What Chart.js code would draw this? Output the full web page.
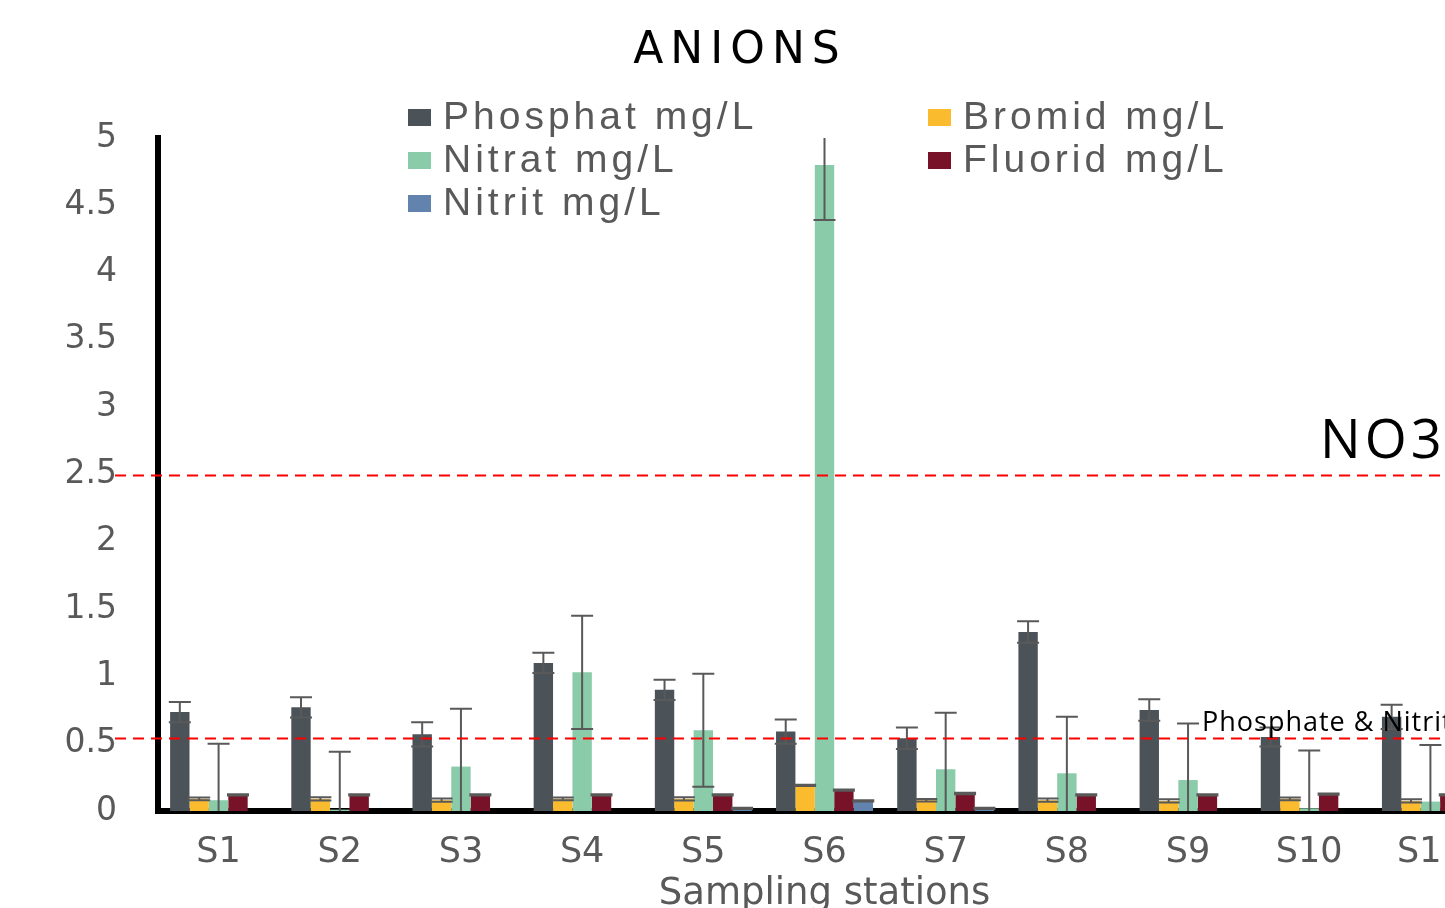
<!DOCTYPE html>
<html>
<head>
<meta charset="utf-8">
<script src="https://cdn.jsdelivr.net/npm/chart.js@4/dist/chart.umd.min.js"></script>
<style>
  body { margin: 0; background: #fff; overflow: hidden; }
  #wrap { width: 1445px; height: 908px; overflow: hidden; }
</style>
</head>
<body>
<div id="wrap"><canvas id="chart" width="1500" height="908"></canvas></div>
<script>
const stations = ['S1', 'S2', 'S3', 'S4', 'S5', 'S6', 'S7', 'S8', 'S9', 'S10', 'S11'];
const yTicks = [0, 0.5, 1, 1.5, 2, 2.5, 3, 3.5, 4, 4.5, 5];

const phosphat    = [0.735, 0.77, 0.57, 1.10, 0.90, 0.59, 0.54, 1.33, 0.75, 0.55, 0.70];
const phosphatErr = [0.075, 0.075, 0.09, 0.075, 0.075, 0.09, 0.08, 0.08, 0.08, 0.07, 0.09];
const bromid      = [0.09, 0.09, 0.08, 0.09, 0.09, 0.19, 0.08, 0.08, 0.075, 0.09, 0.075];
const bromidErr   = [0.01, 0.012, 0.012, 0.01, 0.012, 0.005, 0.01, 0.012, 0.012, 0.01, 0.012];
const nitrat      = [0.08, 0.01, 0.33, 1.03, 0.60, 4.80, 0.31, 0.28, 0.23, 0.02, 0.07];
const nitratErr   = [0.42, 0.43, 0.43, 0.42, 0.42, 0.41, 0.42, 0.42, 0.42, 0.43, 0.42];
const fluorid     = [0.12, 0.12, 0.12, 0.12, 0.12, 0.155, 0.13, 0.12, 0.12, 0.125, 0.12];
const fluoridErr  = [0.005, 0.005, 0.005, 0.005, 0.005, 0.005, 0.005, 0.005, 0.005, 0.005, 0.005];
const nitrit      = [0, 0, 0, 0, 0.02, 0.075, 0.02, 0, 0, 0, 0];
const nitritErr   = [0, 0, 0, 0, 0.005, 0.005, 0.005, 0, 0, 0, 0];

const limitNO3 = 2.5;
const limitPN = 0.54;

const grey = '#595959';

// legend slots: two columns, drawn by hand
const legendPos = [[408, 117], [928, 117], [408, 160], [928, 160], [408, 203]];

const errorBars = {
	id: 'errorBars',
	afterDatasetsDraw(chart) {
		const ctx = chart.ctx;
		const y = chart.scales.y;
		const area = chart.chartArea;
		ctx.save();
		ctx.beginPath();
		ctx.rect(area.left, area.top, area.right - area.left, area.bottom - area.top);
		ctx.clip();
		ctx.strokeStyle = grey;
		ctx.lineWidth = 2;
		chart.data.datasets.forEach((ds, i) => {
			const meta = chart.getDatasetMeta(i);
			meta.data.forEach((bar, j) => {
				const v = ds.data[j];
				const e = ds.err[j];
				if (!e) return;
				const top = y.getPixelForValue(v + e);
				const low = v - e;
				const bot = y.getPixelForValue(Math.max(0, low));
				const half = 11;
				ctx.beginPath();
				ctx.moveTo(bar.x, top);
				ctx.lineTo(bar.x, bot);
				ctx.moveTo(bar.x - half, top);
				ctx.lineTo(bar.x + half, top);
				if (low > 0) {
					ctx.moveTo(bar.x - half, bot);
					ctx.lineTo(bar.x + half, bot);
				}
				ctx.stroke();
			});
		});
		ctx.restore();
	}
};

const overlay = {
	id: 'overlay',
	afterDraw(chart) {
		const ctx = chart.ctx;
		const y = chart.scales.y;
		ctx.save();
		// limit lines
		ctx.strokeStyle = '#ff0000';
		ctx.lineWidth = 2;
		ctx.setLineDash([11, 7]);
		[limitNO3, limitPN].forEach(v => {
			const py = Math.round(y.getPixelForValue(v)) + 0.5;
			ctx.beginPath();
			ctx.moveTo(115, py);
			ctx.lineTo(chart.width, py);
			ctx.stroke();
		});
		ctx.setLineDash([]);

		ctx.fillStyle = '#000';
		ctx.textBaseline = 'middle';
		ctx.textAlign = 'left';
		ctx.font = '54px "Open Sans"';
		ctx.letterSpacing = '4px';
		ctx.fillText('NO3', 1320, 443);
		ctx.font = '27px "Open Sans"';
		ctx.letterSpacing = '1px';
		ctx.fillText('Phosphate & Nitrite', 1202, 723);

		// title
		ctx.textAlign = 'center';
		ctx.font = '44px "DejaVu Sans"';
		ctx.letterSpacing = '7px';
		ctx.fillText('ANIONS', 740, 52);

		// legend
		ctx.textAlign = 'left';
		ctx.font = '39px "Liberation Sans"';
		ctx.letterSpacing = '4px';
		chart.data.datasets.forEach((ds, i) => {
			const [lx, ly] = legendPos[i];
			ctx.fillStyle = ds.backgroundColor;
			ctx.fillRect(lx, ly - 8, 23, 17);
			ctx.fillStyle = grey;
			ctx.fillText(ds.label, lx + 35, ly + 1);
		});
		ctx.restore();
	}
};

function makeSet(label, data, err, color) {
	return { label: label, data: data, err: err, backgroundColor: color, borderWidth: 0 };
}

const config = {
	type: 'bar',
	data: {
		labels: stations,
		datasets: [
			makeSet('Phosphat mg/L', phosphat, phosphatErr, '#4b5358'),
			makeSet('Bromid mg/L', bromid, bromidErr, '#fbbb2f'),
			makeSet('Nitrat mg/L', nitrat, nitratErr, '#8acbaa'),
			makeSet('Fluorid mg/L', fluorid, fluoridErr, '#771229'),
			makeSet('Nitrit mg/L', nitrit, nitritErr, '#6283ad'),
		],
	},
	options: {
		responsive: false,
		animation: false,
		categoryPercentage: 0.8,
		barPercentage: 1.0,
		layout: { padding: { top: 138, right: 9, left: 0, bottom: 0 } },
		plugins: {
			legend: { display: false },
			title: { display: false },
			tooltip: { enabled: false },
		},
		scales: {
			y: {
				min: 0,
				max: 5,
				afterBuildTicks(scale) {
					scale.ticks = yTicks.map(v => ({ value: v }));
				},
				afterFit(scale) { scale.width = 158; },
				ticks: {
					color: grey,
					padding: 41,
					font: { family: 'DejaVu Sans', size: 33 },
					callback: v => String(v),
				},
				grid: { display: false, drawTicks: false },
				border: { color: '#000', width: 6 },
			},
			x: {
				afterFit(scale) { scale.height = 97; },
				ticks: {
					color: grey,
					padding: 21,
					font: { family: 'DejaVu Sans', size: 35 },
				},
				grid: { display: false, drawTicks: false },
				border: { color: '#000', width: 6 },
				title: {
					display: true,
					text: 'Sampling stations',
					color: grey,
					padding: { top: 0, bottom: -5 },
					font: { family: 'DejaVu Sans', size: 37, lineHeight: 1 },
				},
			},
		},
	},
	plugins: [errorBars, overlay],
};

new Chart(document.getElementById('chart'), config);
</script>
</body>
</html>
